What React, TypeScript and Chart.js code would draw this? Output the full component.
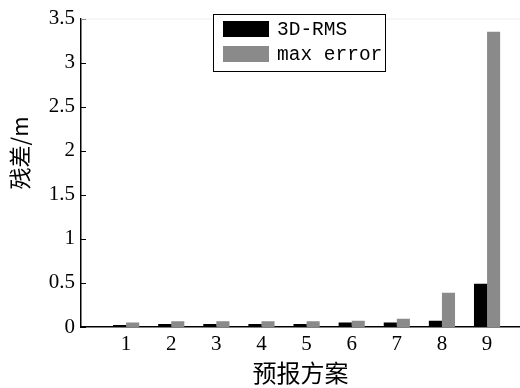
import React, { useEffect, useRef } from "react";
import { Chart, registerables } from "chart.js";

Chart.register(...registerables);

const categories = [1, 2, 3, 4, 5, 6, 7, 8, 9];
const rmsValues = [0.022, 0.035, 0.035, 0.035, 0.035, 0.05, 0.05, 0.07, 0.49];
const maxErrorValues = [0.05, 0.065, 0.065, 0.065, 0.065, 0.07, 0.095, 0.39, 3.35];
const seriesLabels = ["3D-RMS", "max error"];
const seriesColors = ["#000000", "#8a8a8a"];
const xTitle = "预报方案";
const yTitle = "残差/m";

const MONO = "'Liberation Mono', monospace";
const SERIF = "'Liberation Serif', serif";
const CJK = "'Noto Sans CJK SC', sans-serif";

const innerTicks = {
  id: "innerTicks",
  afterDraw(chart: any) {
    const { ctx, chartArea } = chart;
    const y = chart.scales.y;
    ctx.save();
    ctx.strokeStyle = "#000";
    ctx.lineWidth = 1;
    y.ticks.forEach((t: any) => {
      const py = Math.round(y.getPixelForValue(t.value)) + 0.5;
      ctx.beginPath();
      ctx.moveTo(chartArea.left, py);
      ctx.lineTo(chartArea.left + 5, py);
      ctx.stroke();
    });
    ctx.strokeStyle = "#eeeeee";
    ctx.beginPath();
    ctx.moveTo(chartArea.left, chartArea.top + 0.5);
    ctx.lineTo(chartArea.right, chartArea.top + 0.5);
    ctx.stroke();
    // y axis title
    ctx.translate(20, 153);
    ctx.rotate(-Math.PI / 2);
    ctx.fillStyle = "#000";
    ctx.font = `22px ${CJK}`;
    ctx.textAlign = "center";
    ctx.textBaseline = "middle";
    ctx.fillText(yTitle, 0, 0);
    ctx.restore();
  },
};

const boxLegend = {
  id: "boxLegend",
  afterDraw(chart: any) {
    const { ctx } = chart;
    const bx = 213.5, by = 14.5, bw = 172, bh = 57;
    ctx.save();
    ctx.fillStyle = "#fff";
    ctx.fillRect(bx, by, bw, bh);
    ctx.strokeStyle = "#000";
    ctx.lineWidth = 1;
    ctx.strokeRect(bx, by, bw, bh);
    ctx.font = `19.5px ${MONO}`;
    ctx.textBaseline = "middle";
    chart.data.datasets.forEach((ds: any, i: number) => {
      const sy = 21 + i * 25;
      ctx.fillStyle = ds.backgroundColor;
      ctx.fillRect(223, sy, 46, 16);
      ctx.fillStyle = "#000";
      ctx.fillText(ds.label, 277, sy + 9);
    });
    ctx.restore();
  },
};

export default function App() {
  const ref = useRef<HTMLCanvasElement>(null);
  useEffect(() => {
    const chart = new Chart(ref.current!, {
      type: "bar",
      data: {
        datasets: [
          {
            label: seriesLabels[0],
            data: categories.map((c, i) => ({ x: c, y: rmsValues[i] })),
            backgroundColor: seriesColors[0],
          },
          {
            label: seriesLabels[1],
            data: categories.map((c, i) => ({ x: c, y: maxErrorValues[i] })),
            backgroundColor: seriesColors[1],
          },
        ],
      },
      plugins: [innerTicks, boxLegend],
      options: {
        animation: false,
        responsive: false,
        devicePixelRatio: 1,
        layout: { padding: { left: 0, top: 12, right: 0, bottom: 0 } },
        datasets: { bar: { categoryPercentage: 0.58, barPercentage: 1 } },
        plugins: { legend: { display: false }, tooltip: { enabled: false } },
        scales: {
          x: {
            type: "linear",
            min: 0,
            max: 9.73,
            offset: false,
            afterBuildTicks: (s: any) => {
              s.ticks = categories.map((v) => ({ value: v }));
            },
            afterFit: (s: any) => {
              s.height = 61;
            },
            grid: { display: false, drawTicks: false },
            border: { display: true, color: "#000", width: 1.5 },
            ticks: {
              autoSkip: false,
              maxRotation: 0,
              padding: 5,
              color: "#000",
              font: { family: SERIF, size: 21 },
              callback: (v: any) => String(v),
            },
            title: {
              display: true,
              text: xTitle,
              color: "#000",
              font: { family: CJK, size: 24 },
              padding: { top: 0, bottom: 1 },
            },
          },
          y: {
            min: 0,
            max: 3.5,
            afterFit: (s: any) => {
              s.width = 81;
            },
            grid: { display: false, drawTicks: false },
            border: { display: true, color: "#000", width: 1.5 },
            ticks: {
              stepSize: 0.5,
              padding: 6,
              color: "#000",
              font: { family: SERIF, size: 21 },
              callback: (v: any) => String(Math.round(Number(v) * 10) / 10),
            },
            title: { display: false, text: yTitle },
          },
        },
      },
    });
    return () => chart.destroy();
  }, []);
  return (
    <div style={{ position: "fixed", left: 0, top: 0, width: 520, height: 388, background: "#fff" }}>
      <canvas ref={ref} width={520} height={388} />
    </div>
  );
}
